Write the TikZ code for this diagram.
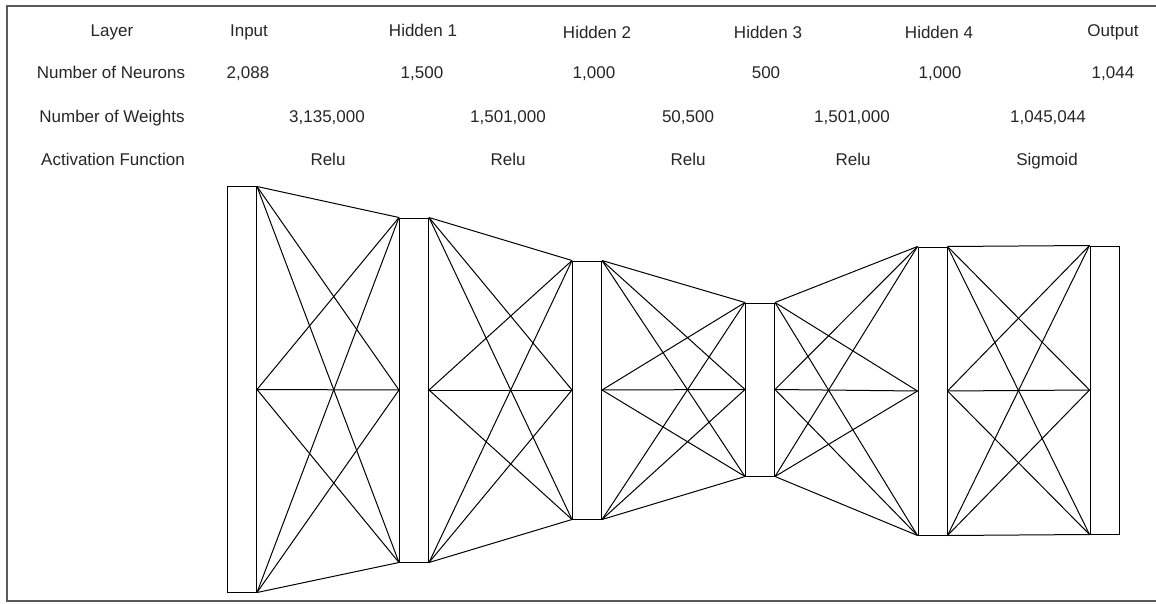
\documentclass[tikz,border=0pt]{standalone}
\usepackage{fontspec}
\setmainfont{Liberation Sans}
\begin{document}
\begin{tikzpicture}[x=1pt,y=-1pt,
  lbl/.style={font=\fontsize{17}{20}\selectfont, text=black!85, inner sep=0pt, anchor=base},
  layerbox/.style={draw=black, line width=1pt, fill=white, inner sep=0pt, minimum width=29pt},
  conn/.style={draw=black, line width=1pt},
  frame/.style={draw=black!65, line width=2pt}]
\useasboundingbox (0,0) rectangle (1156,604);
\draw[frame] (7,6) rectangle (1165,601);
% text rows
\node[lbl] (tLayer) at (112,37) {Layer};
\node[lbl] (tIn) at (249,37) {Input};
\node[lbl] (tH1) at (423,37) {Hidden 1};
\node[lbl] (tH2) at (597,39) {Hidden 2};
\node[lbl] (tH3) at (768,39) {Hidden 3};
\node[lbl] (tH4) at (939,39) {Hidden 4};
\node[lbl] (tOut) at (1113,37) {Output};
\node[lbl] (nLbl) at (111,79) {Number of Neurons};
\node[lbl] (nIn) at (248,79) {2,088};
\node[lbl] (nH1) at (422,79) {1,500};
\node[lbl] (nH2) at (594,79) {1,000};
\node[lbl] (nH3) at (766,79) {500};
\node[lbl] (nH4) at (940,79) {1,000};
\node[lbl] (nOut) at (1113,79) {1,044};
\node[lbl] (wLbl) at (112,123) {Number of Weights};
\node[lbl] (w1) at (327,123) {3,135,000};
\node[lbl] (w2) at (508,123) {1,501,000};
\node[lbl] (w3) at (688,123) {50,500};
\node[lbl] (w4) at (852,123) {1,501,000};
\node[lbl] (w5) at (1048,123) {1,045,044};
\node[lbl] (aLbl) at (113,166) {Activation Function};
\node[lbl] (a1) at (328,166) {Relu};
\node[lbl] (a2) at (508,166) {Relu};
\node[lbl] (a3) at (688,166) {Relu};
\node[lbl] (a4) at (853,166) {Relu};
\node[lbl] (a5) at (1047,166) {Sigmoid};
% layer boxes
\node[layerbox, minimum height=405pt] (L0) at (242,389.5) {};
\node[layerbox, minimum height=344pt] (L1) at (414,390) {};
\node[layerbox, minimum height=258pt] (L2) at (587,390) {};
\node[layerbox, minimum height=173pt] (L3) at (760,389.5) {};
\node[layerbox, minimum height=288pt] (L4) at (932.5,391) {};
\node[layerbox, minimum height=288pt] (L5) at (1104.5,390) {};
% connections
\foreach \a/\b in {L0/L1,L1/L2,L2/L3,L3/L4,L4/L5}{
  \foreach \s in {north east,east,south east}{
    \foreach \t in {north west,west,south west}{
      \draw[conn] (\a.\s) -- (\b.\t);
    }
  }
}
\end{tikzpicture}
\end{document}
